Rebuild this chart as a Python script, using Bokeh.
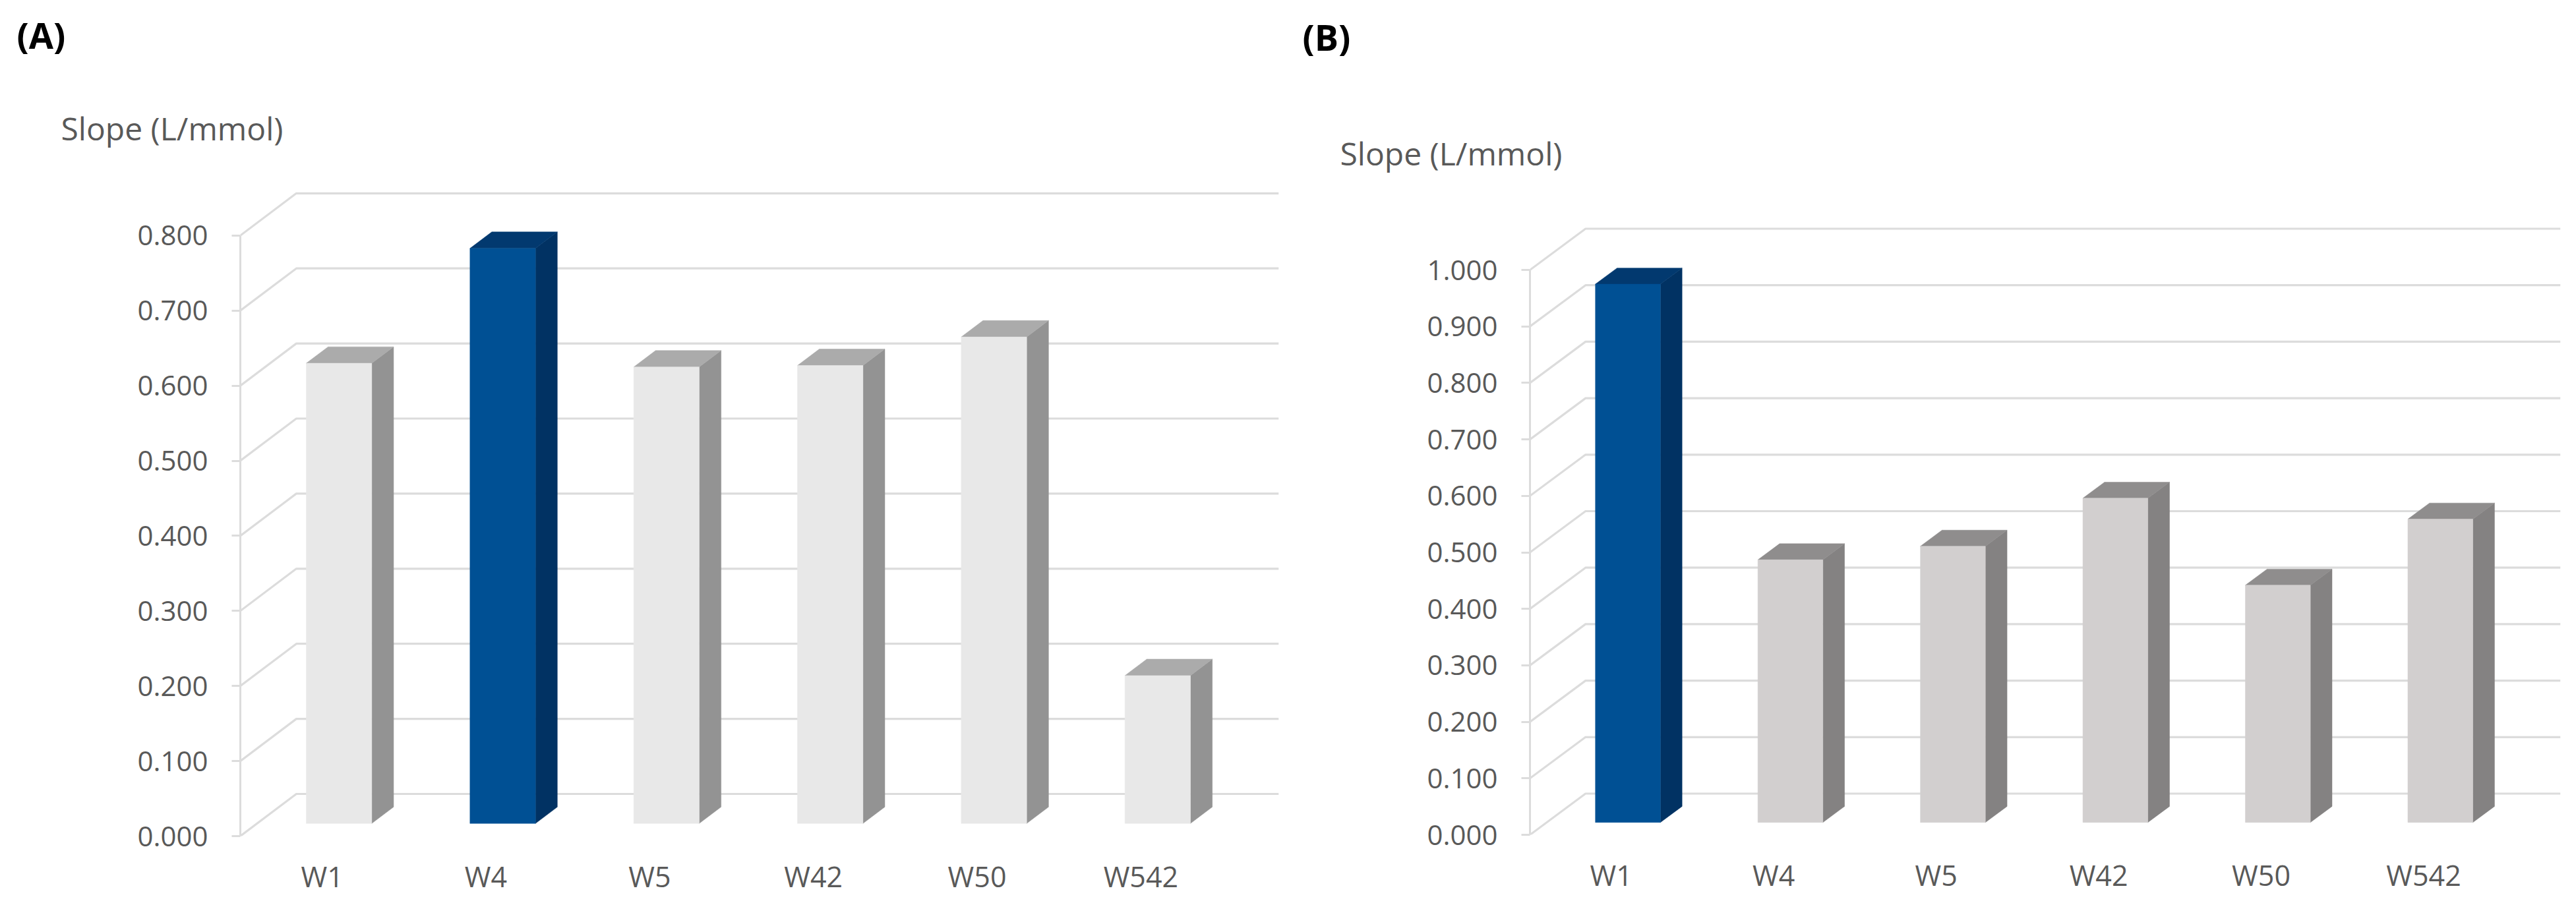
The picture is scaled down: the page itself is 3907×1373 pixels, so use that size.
from bokeh.plotting import figure
from bokeh.models import FixedTicker, Label, ColumnDataSource
from bokeh.layouts import row, column
from bokeh.embed import file_html
from bokeh.resources import INLINE

categories = ["W1", "W4", "W5", "W42", "W50", "W542"]
slope_a = [0.613, 0.766, 0.608, 0.610, 0.648, 0.197]
slope_b = [0.953, 0.465, 0.489, 0.574, 0.420, 0.537]
ticks_a = [0.0, 0.1, 0.2, 0.3, 0.4, 0.5, 0.6, 0.7, 0.8]
ticks_b = [0.0, 0.1, 0.2, 0.3, 0.4, 0.5, 0.6, 0.7, 0.8, 0.9, 1.0]
highlight_a = "W4"
highlight_b = "W1"
value_title = "Slope (L/mmol)"

FONT = "Open Sans"
TEXT = "#595959"
GRID = "#dcdcdc"
BLUE = ("#005094", "#02396f", "#013263")
HEADER_H = 280


def header(letter, width, letter_xy, title_xy):
    p = figure(width=width, height=HEADER_H, output_backend="svg", toolbar_location=None,
               x_range=(0, width), y_range=(HEADER_H, 0),
               x_axis_location=None, y_axis_location=None, frame_align=False,
               min_border_left=0, min_border_right=0, min_border_top=0, min_border_bottom=0)
    p.outline_line_color = None
    p.xgrid.visible = False
    p.ygrid.visible = False
    p.add_layout(Label(x=letter_xy[0], y=letter_xy[1], text=f"({letter})",
                       text_font=FONT, text_font_style="bold", text_font_size="54px",
                       text_color="#000000", text_align="left", text_baseline="middle"))
    p.add_layout(Label(x=title_xy[0], y=title_xy[1], text=value_title,
                       text_font=FONT, text_font_size="48px", text_color=TEXT,
                       text_align="left", text_baseline="middle"))
    return p


def chart(values, ticks, highlight, grey, width, left, cat_px, unit_px,
          bottom_gap, depth_px):
    height = 1365 - HEADER_H
    frame_h = height - bottom_gap
    frame_w = cat_px * (len(values) + 0.342)
    depth_x = 0.342
    depth_y = depth_px / unit_px
    y_end = frame_h / unit_px
    p = figure(width=width, height=height, output_backend="svg", toolbar_location=None,
               x_range=(0, len(values) + depth_x), y_range=(0, y_end), frame_align=False,
               min_border_left=int(left), min_border_top=0, min_border_bottom=bottom_gap,
               min_border_right=int(width - left - frame_w),
               frame_width=int(round(frame_w)), frame_height=frame_h)
    p.outline_line_color = None
    p.background_fill_color = "white"
    p.xgrid.visible = False
    p.ygrid.visible = False

    # wall gridlines, running back from the value axis then across
    gx = [[0, depth_x, len(values) + depth_x] for _ in ticks]
    gy = [[t, t + depth_y, t + depth_y] for t in ticks]
    p.multi_line(gx, gy, line_color=GRID, line_width=3.2)

    # three visible faces of every bar
    fronts = {"xs": [], "ys": [], "c": []}
    sides = {"xs": [], "ys": [], "c": []}
    tops = {"xs": [], "ys": [], "c": []}
    bar_w = 0.4
    near = 0.3
    far = 0.69
    for i, (cat, v) in enumerate(zip(categories, values)):
        colors = BLUE if cat == highlight else grey
        dxn, dyn = near * depth_x, near * depth_y
        dxf, dyf = far * depth_x, far * depth_y
        x0 = i + 0.5 - bar_w / 2 + dxn
        x1 = x0 + bar_w
        b = dyn
        t = dyn + v
        fronts["xs"].append([x0, x1, x1, x0])
        fronts["ys"].append([b, b, t, t])
        fronts["c"].append(colors[0])
        off_x, off_y = dxf - dxn, dyf - dyn
        tops["xs"].append([x0, x1, x1 + off_x, x0 + off_x])
        tops["ys"].append([t, t, t + off_y, t + off_y])
        tops["c"].append(colors[1])
        sides["xs"].append([x1, x1 + off_x, x1 + off_x, x1])
        sides["ys"].append([b, b + off_y, t + off_y, t])
        sides["c"].append(colors[2])
    for face in (sides, tops, fronts):
        p.patches("xs", "ys", fill_color="c", line_color="c", line_width=0.5,
                  source=ColumnDataSource(face))

    # value axis
    ya = p.yaxis[0]
    ya.bounds = (ticks[0], ticks[-1])
    ya.ticker = FixedTicker(ticks=ticks)
    ya.major_label_overrides = {t: f"{t:.3f}" for t in ticks}
    ya.minor_tick_line_color = None
    ya.axis_line_color = GRID
    ya.axis_line_width = 3
    ya.major_tick_line_color = GRID
    ya.major_tick_line_width = 3
    ya.major_tick_out = 13
    ya.major_tick_in = 0
    ya.major_label_standoff = 36
    ya.major_label_text_font = FONT
    ya.major_label_text_font_size = "42px"
    ya.major_label_text_color = TEXT

    # category axis
    xa = p.xaxis[0]
    pos = [i + 0.5 for i in range(len(categories))]
    xa.ticker = FixedTicker(ticks=pos)
    xa.major_label_overrides = dict(zip(pos, categories))
    xa.minor_tick_line_color = None
    xa.major_tick_line_color = None
    xa.axis_line_color = None
    xa.major_tick_out = 0
    xa.major_tick_in = 0
    xa.major_label_standoff = 31
    xa.major_label_text_font = FONT
    xa.major_label_text_font_size = "43px"
    xa.major_label_text_color = TEXT
    return p


ha = header("A", 1958, (25, 52), (92, 194))
pa = chart(slope_a, ticks_a, highlight_a, ("#e8e8e8", "#ababab", "#939393"),
           1958, 364, 248.4, 1139, 97, 64)
hb = header("B", 1941, (17, 55), (74, 232))
pb = chart(slope_b, ticks_b, highlight_b, ("#d2cfcf", "#8f8d8d", "#848282"),
           1941, 362, 246.4, 857, 99, 62.5)

layout = row(column(ha, pa), column(hb, pb))
open("out.html", "w").write(file_html(layout, INLINE))
